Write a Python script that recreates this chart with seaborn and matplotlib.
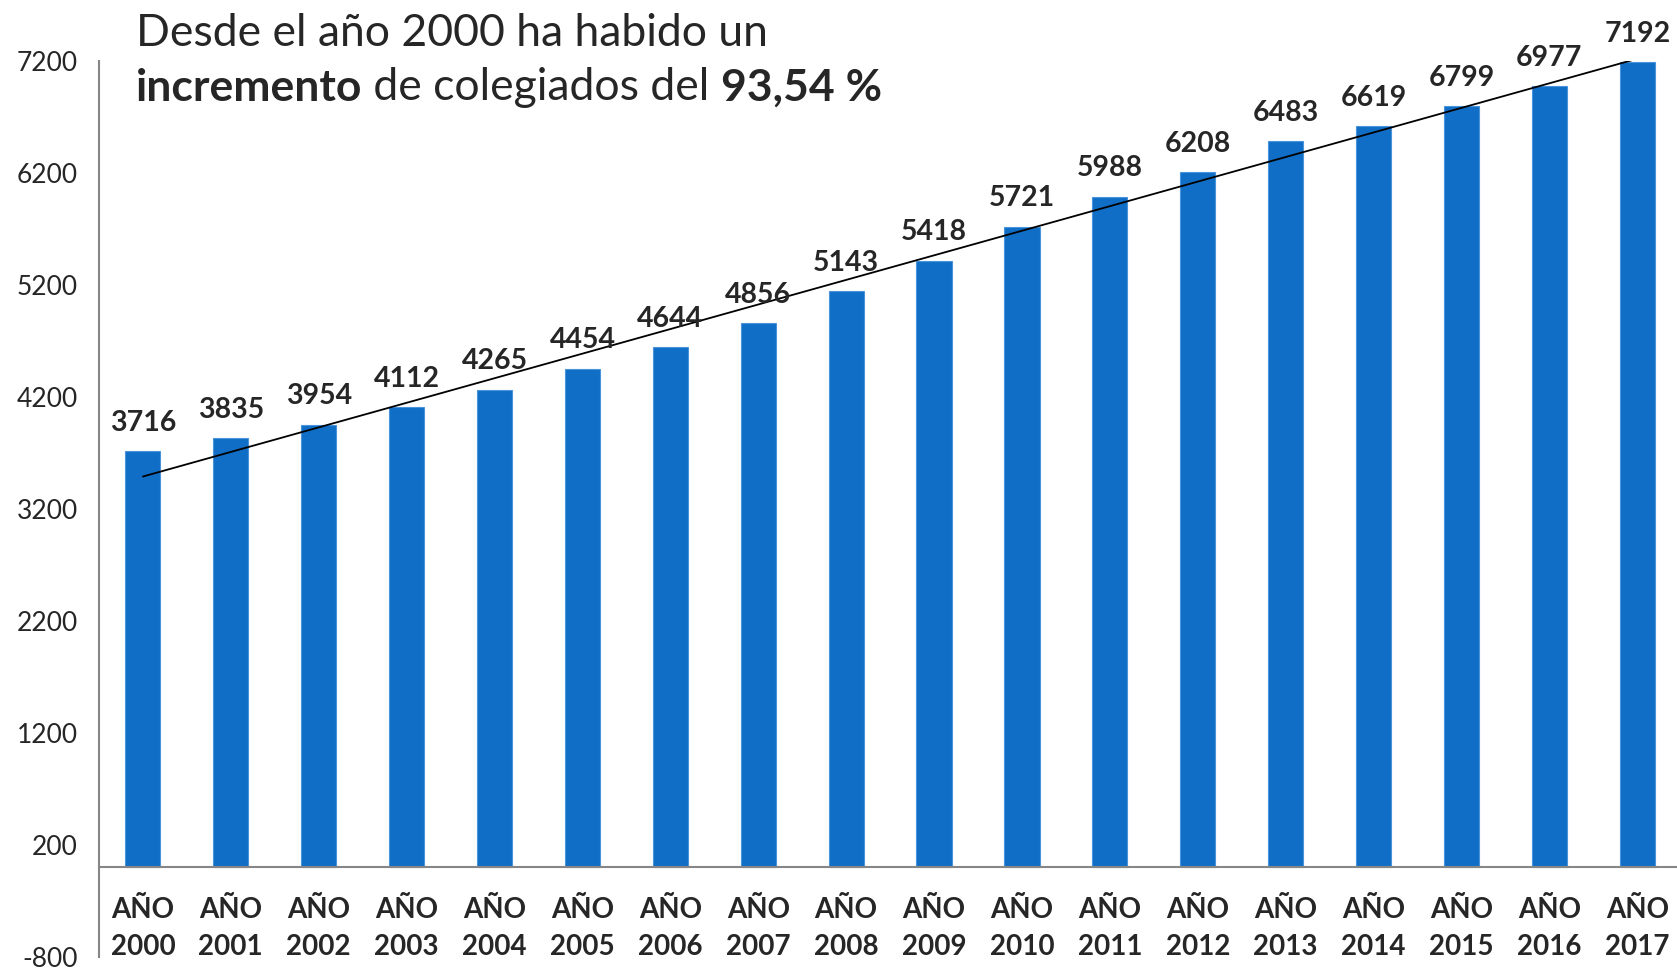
import numpy as np
import pandas as pd
import matplotlib
matplotlib.use("Agg")
import matplotlib.pyplot as plt
import seaborn as sns

# -----------------------------
# DATA
# -----------------------------
years = ["2000", "2001", "2002", "2003", "2004", "2005", "2006", "2007", "2008",
         "2009", "2010", "2011", "2012", "2013", "2014", "2015", "2016", "2017"]
colegiados = [3716, 3835, 3954, 4112, 4265, 4454, 4644, 4856, 5143,
              5418, 5721, 5988, 6208, 6483, 6619, 6799, 6977, 7192]
yticks = [-800, 200, 1200, 2200, 3200, 4200, 5200, 6200, 7200]

df = pd.DataFrame({"year": ["AÑO\n" + y for y in years], "value": colegiados})

# -----------------------------
# STYLE
# -----------------------------
sns.set_style("white")
plt.rcParams["font.family"] = ["Lato", "DejaVu Sans"]

bar_color = "#106EC6"
axis_color = "#868686"

fig = plt.figure(figsize=(16.77, 9.69), dpi=100)
ax = fig.add_axes([0.059, 0.0124, 0.9435, 0.9247])

sns.barplot(data=df, x="year", y="value", color=bar_color, saturation=1,
            width=0.4, edgecolor="#4a94dc", linewidth=0.8, ax=ax)

# labels above bars
ax.bar_label(ax.containers[0], padding=11, fontsize=20.5, fontweight="bold")

# linear trendline
x = np.arange(len(colegiados))
slope, intercept = np.polyfit(x, colegiados, 1)
ax.plot(x, slope * x + intercept, color="black", lw=1.3)

# -----------------------------
# AXES
# -----------------------------
ax.set_ylim(-800, 7200)
ax.set_xlim(-0.5, len(years) - 0.5)
ax.set_yticks(yticks)
ax.set_yticklabels([str(t) for t in yticks], fontsize=19)
ax.set_xlabel("")
ax.set_ylabel("")

ax.spines["top"].set_visible(False)
ax.spines["right"].set_visible(False)
ax.spines["bottom"].set_position(("data", 0))
for s in ["left", "bottom"]:
    ax.spines[s].set_color(axis_color)
    ax.spines[s].set_linewidth(1.5)

ax.tick_params(axis="y", length=7, width=1.5, color=axis_color, direction="out", pad=8)
ax.tick_params(axis="x", which="major", length=0, pad=21, labelsize=20)
ax.set_xticks(x[1:] - 0.5, minor=True)
ax.tick_params(axis="x", which="minor", length=7, width=1.5, color=axis_color, direction="out")
for lbl in ax.get_xticklabels():
    lbl.set_fontweight("bold")
    lbl.set_linespacing(1.55)

# -----------------------------
# TITLE (mixed weight)
# -----------------------------
t1 = fig.text(0.081, 0.953, "Desde el año 2000 ha habido un", fontsize=32, va="baseline")
t2 = fig.text(0.081, 0.896, "incremento", fontsize=32, fontweight="bold", va="baseline")
t3 = ax.annotate(" de colegiados del ", xy=(1, 0), xycoords=t2, fontsize=32,
                 va="bottom", ha="left")
ax.annotate("93,54 %", xy=(1, 0), xycoords=t3, fontsize=32, fontweight="bold",
            va="bottom", ha="left")

fig.savefig("out.png", dpi=100)
